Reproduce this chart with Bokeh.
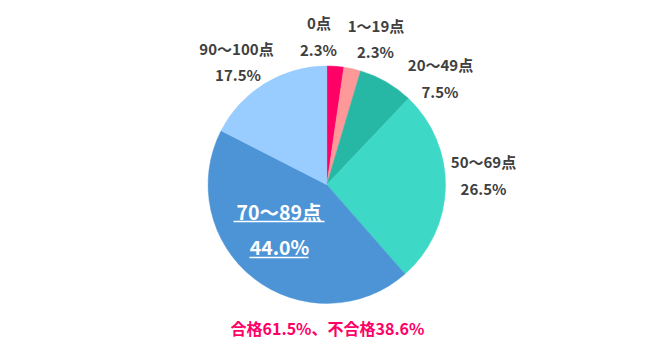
import math
from bokeh.plotting import figure
from bokeh.models import Range1d, ColumnDataSource
from bokeh.core.properties import value
from bokeh.embed import file_html
from bokeh.resources import INLINE

categories = ["0点", "1～19点", "20～49点", "50～69点", "70～89点", "90～100点"]
percents = [2.3, 2.3, 7.5, 26.5, 44.0, 17.5]
colors = ["#FF0066", "#FF9999", "#26B8A5", "#3ED9C6", "#4D94D6", "#99CCFF"]
footer = "合格61.5%、不合格38.6%"

W, H = 650, 347
p = figure(width=W, height=H, output_backend="svg", toolbar_location=None,
           x_range=Range1d(0, W), y_range=Range1d(0, H), min_border=0)
p.axis.visible = False
p.grid.visible = False
p.outline_line_color = None
p.background_fill_color = "white"

cx, cy, r = 326.3, H - 184.2, 118.7
total = sum(percents)
starts, ends = [], []
acc = 0.0
for v in percents:
    starts.append(math.pi / 2 - 2 * math.pi * acc / total)
    acc += v
    ends.append(math.pi / 2 - 2 * math.pi * acc / total)

src = ColumnDataSource(dict(start=starts, end=ends, color=colors, cat=categories))
p.wedge(x=cx, y=cy, radius=r, start_angle="start", end_angle="end", direction="clock",
        fill_color="color", line_color="color", line_width=0.5, source=src)

# label anchor positions (screen coords): name line, percent line
label_pos = [(318.5, 22, 318, 49), (375.5, 24.5, 375, 51), (440, 64, 439.5, 91),
             (483, 161, 483, 188), (278.5, 211, 279, 245.5), (236, 47.5, 237.5, 74)]
font = value("Noto Sans CJK JP")
for i, (cat, v) in enumerate(zip(categories, percents)):
    x1, y1, x2, y2 = label_pos[i]
    big = (i == 4)
    col = "white" if big else "#404040"
    fs = "19.5px" if big else "15px"
    p.text(x=[x1], y=[H - y1], text=[cat], text_align="center", text_baseline="middle",
           text_font=font, text_font_size=fs, text_font_style="bold", text_color=col)
    p.text(x=[x2], y=[H - y2], text=[f"{v:.1f}%"], text_align="center", text_baseline="middle",
           text_font=font, text_font_size=fs, text_font_style="bold", text_color=col)
    if big:
        p.segment(x0=[233, 249], y0=[H - 221, H - 257], x1=[324, 308], y1=[H - 221, H - 257],
                  line_color="white", line_width=1.5)

p.text(x=[327], y=[H - 327], text=[footer], text_align="center", text_baseline="middle",
       text_font=font, text_font_size="16px", text_font_style="bold", text_color="#FF0066")

open("out.html", "w").write(file_html(p, INLINE))
